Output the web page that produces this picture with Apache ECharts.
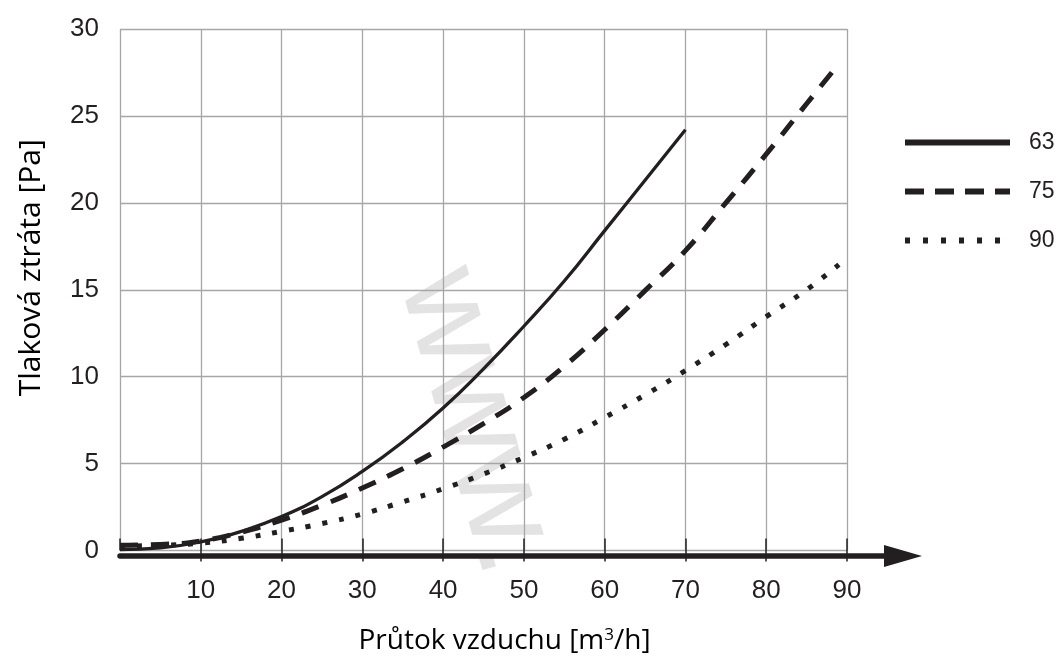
<!DOCTYPE html>
<html>
<head>
<meta charset="utf-8">
<script src="https://cdn.jsdelivr.net/npm/echarts@6/dist/echarts.min.js"></script>
<style>
html,body{margin:0;padding:0;background:#fff;}
#chart{width:1064px;height:660px;}
</style>
</head>
<body>
<div id="chart"></div>
<script>
// ---- data ----
const xTicks = [0, 10, 20, 30, 40, 50, 60, 70, 80, 90];
const yTicks = [0, 5, 10, 15, 20, 25, 30];
const seriesNames = ['63', '75', '90'];

const x63 = [0, 5, 10, 15, 20, 25, 30, 35, 40, 45, 50, 55, 60, 65, 70];
const y63 = [0.05, 0.15, 0.5, 1.1, 1.95, 3.1, 4.55, 6.25, 8.2, 10.45, 12.9, 15.5, 18.4, 21.3, 24.2];

const x75 = [0, 5, 10, 15, 20, 25, 30, 35, 40, 45, 50, 55, 60, 65, 70, 75, 80, 85, 89];
const y75 = [0.3, 0.35, 0.55, 1.05, 1.75, 2.6, 3.6, 4.7, 5.95, 7.3, 8.8, 10.6, 12.7, 14.95, 17.25, 20.0, 22.8, 25.7, 28.0];

const x90 = [0, 5, 10, 15, 20, 25, 30, 35, 40, 45, 50, 55, 60, 65, 70, 75, 80, 85, 89];
const y90 = [0.25, 0.3, 0.42, 0.7, 1.1, 1.55, 2.1, 2.8, 3.55, 4.4, 5.35, 6.4, 7.65, 8.95, 10.35, 11.85, 13.45, 15.0, 16.45];

const xName = 'Průtok vzduchu [m{sup|3}/h]';
const yName = 'Tlaková ztráta [Pa]';
const watermark = 'www.';

// ---- chart ----
const pair = (xs, ys) => xs.map((x, i) => [x, ys[i]]);
const INK = '#231f20';
const GRID = '#a6a6a6';
const numFont = 'Liberation Sans';
const nameFont = 'Open Sans';

const chart = echarts.init(document.getElementById('chart'), null, {renderer: 'canvas'});

const lineBase = {
  type: 'line', xAxisIndex: 0, yAxisIndex: 0,
  symbol: 'none', showSymbol: false, smooth: 0.5,
  color: INK, animation: false, silent: true
};

chart.setOption({
  animation: false,
  backgroundColor: '#fff',
  grid: [
    {left: 120, top: 29, width: 727, height: 527},
    {left: 120, top: 29, width: 783, height: 527}
  ],
  xAxis: [
    {
      gridIndex: 0, type: 'value', position: 'bottom', min: xTicks[0], max: xTicks[xTicks.length - 1], interval: 10,
      axisLine: {show: false},
      axisTick: {show: true, length: 11, lineStyle: {color: INK, width: 1.5}},
      axisLabel: {showMinLabel: false, margin: 27, fontFamily: numFont, fontSize: 26, color: INK},
      splitLine: {show: true, lineStyle: {color: GRID, width: 1.3}},
      name: xName, nameLocation: 'middle', nameGap: 76,
      nameTextStyle: {
        fontFamily: nameFont, fontSize: 28, color: '#000', padding: [0, 0, 0, 42],
        rich: {sup: {fontFamily: nameFont, fontSize: 17, color: '#000', verticalAlign: 'top', padding: [0, 0, 12, 0]}}
      }
    },
    {
      gridIndex: 0, type: 'value', position: 'bottom', min: xTicks[0], max: xTicks[xTicks.length - 1], interval: 10,
      axisLine: {show: false},
      axisTick: {show: true, inside: true, length: 12, lineStyle: {color: INK, width: 1.5}},
      axisLabel: {show: false}, splitLine: {show: false}
    },
    {
      gridIndex: 1, type: 'value', position: 'bottom', min: 0, max: 1,
      axisLine: {show: true, symbol: ['none', 'triangle'], symbolSize: [22, 38],
        lineStyle: {color: INK, width: 5.5}},
      axisTick: {show: false}, axisLabel: {show: false}, splitLine: {show: false}
    }
  ],
  yAxis: [
    {
      gridIndex: 0, type: 'value', min: yTicks[0], max: yTicks[yTicks.length - 1], interval: 5,
      axisLine: {show: false}, axisTick: {show: false},
      axisLabel: {margin: 21, fontFamily: numFont, fontSize: 26, color: INK, padding: [0, 0, 26, 0]},
      splitLine: {show: true, lineStyle: {color: GRID, width: 1.3}},
      name: yName, nameLocation: 'middle', nameGap: 74,
      nameTextStyle: {fontFamily: nameFont, fontSize: 30, color: '#000', padding: [0, 0, 0, 44]}
    },
    {
      gridIndex: 1, type: 'value', min: 0, max: 30,
      axisLine: {show: false}, axisTick: {show: false}, axisLabel: {show: false}, splitLine: {show: false}
    }
  ],
  legend: {
    orient: 'vertical', left: 897, top: 126,
    itemWidth: 105, itemHeight: 14, itemGap: 26,
    selectedMode: false,
    itemStyle: {color: 'rgba(0,0,0,0)', opacity: 0, borderWidth: 0},
    textStyle: {fontFamily: numFont, fontSize: 23, color: INK, padding: [0, 0, 0, 14]},
    data: [
      {name: seriesNames[0], lineStyle: {width: 6, type: 'solid', cap: 'butt'}},
      {name: seriesNames[1], lineStyle: {width: 6, type: [19, 11], cap: 'butt'}},
      {name: seriesNames[2], lineStyle: {width: 6, type: [5, 13], cap: 'butt'}}
    ]
  },
  graphic: [{
    type: 'text', left: 372, top: 255, rotation: -74 * Math.PI / 180, z: -10, silent: true,
    style: {text: watermark, font: '130px "Liberation Sans"', fill: '#e3e3e3'}
  }],
  series: [
    Object.assign({}, lineBase, {name: seriesNames[0], data: pair(x63, y63),
      lineStyle: {color: INK, width: 3.3, type: 'solid', cap: 'butt'}}),
    Object.assign({}, lineBase, {name: seriesNames[1], data: pair(x75, y75),
      lineStyle: {color: INK, width: 5, type: [18, 13], cap: 'butt'}}),
    Object.assign({}, lineBase, {name: seriesNames[2], data: pair(x90, y90),
      lineStyle: {color: INK, width: 5, type: [5, 12], cap: 'butt'}})
  ]
});
</script>
</body>
</html>
